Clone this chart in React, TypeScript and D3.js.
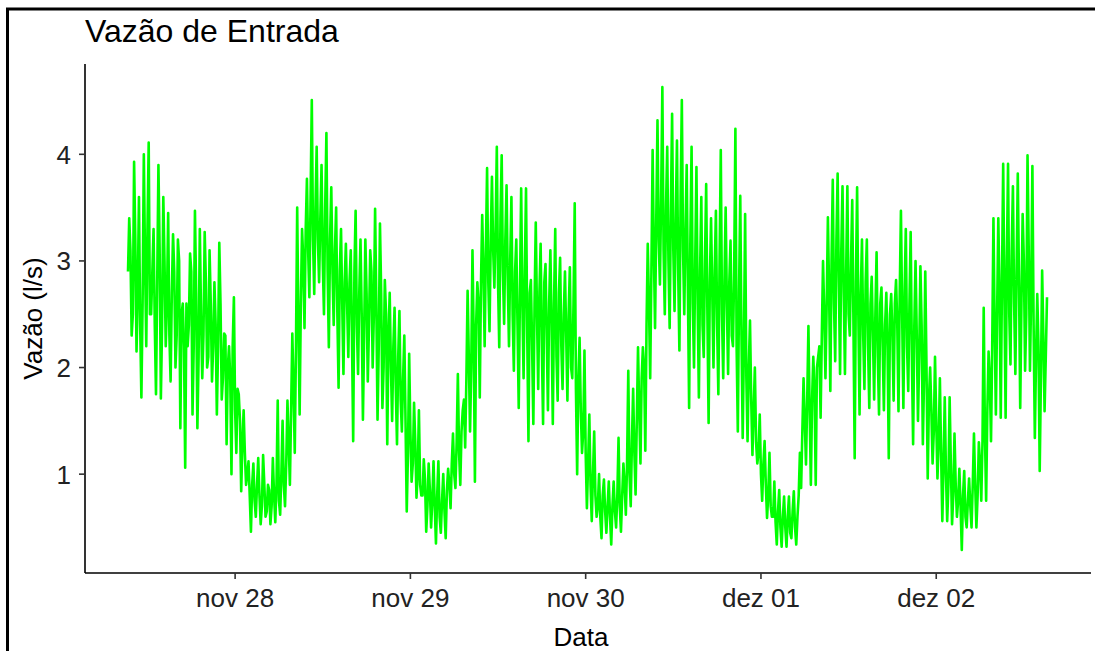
import * as d3 from "d3";

// textos do gráfico
const title = "Vazão de Entrada";
const xTitle = "Data";
const yTitle = "Vazão (l/s)";

// série: leituras a cada 10 min a partir de 27/nov 09:20 (12 leituras = 2 h por linha)
const startTime = new Date(2021, 10, 27, 9, 20);
const stepMinutes = 10;
const yTicks = [1, 2, 3, 4];
const monthsShort = ["jan", "fev", "mar", "abr", "mai", "jun", "jul", "ago", "set", "out", "nov", "dez"];

const vazao = [
  2.9, 3.4, 3.1, 2.3, 2.5, 3.93, 3.2, 2.15, 2.7, 3.6, 2.4, 1.72,
  2.6, 4.0, 3.0, 2.2, 3.3, 4.11, 2.5, 2.5, 2.9, 3.3, 2.4, 1.75,
  2.8, 3.9, 3.1, 1.71, 2.4, 3.6, 3.0, 2.2, 2.6, 3.45, 2.3, 1.87,
  2.7, 3.25, 2.9, 2.0, 2.3, 3.2, 3.0, 1.43, 2.5, 2.6, 2.2, 1.06,
  2.6, 2.2, 2.4, 3.07, 2.9, 1.56, 2.2, 3.47, 2.7, 1.43, 2.1, 3.3,
  2.5, 1.9, 2.3, 3.27, 2.8, 2.0, 2.1, 3.1, 2.6, 1.87, 2.2, 2.8,
  2.4, 1.56, 2.2, 3.17, 2.6, 1.7, 1.9, 2.32, 2.3, 1.28, 2.0, 2.2,
  1.9, 1.0, 2.2, 2.66, 1.6, 1.2, 1.8, 1.75, 1.5, 0.84, 1.3, 1.6,
  1.2, 0.9, 1.0, 1.12, 0.8, 0.46, 0.9, 1.1, 0.75, 0.6, 0.9, 1.15,
  0.8, 0.53, 0.7, 1.18, 0.9, 0.6, 0.65, 0.9, 0.85, 0.53, 0.7, 1.15,
  0.8, 0.55, 0.9, 1.69, 0.75, 0.62, 1.0, 1.5, 0.9, 0.7, 1.1, 1.69,
  1.3, 0.9, 1.6, 2.32, 1.8, 1.2, 2.2, 3.5, 2.4, 1.56, 2.6, 3.3,
  3.0, 2.37, 3.3, 3.77, 3.1, 2.66, 3.6, 4.51, 3.2, 2.69, 3.5, 4.07,
  3.2, 2.8, 3.4, 3.9, 3.0, 2.5, 3.5, 4.2, 2.9, 2.19, 3.2, 3.69,
  2.9, 2.4, 3.1, 3.5, 2.5, 1.81, 2.9, 3.3, 2.6, 1.94, 2.8, 3.16,
  2.6, 2.1, 2.8, 3.1, 2.3, 1.31, 2.9, 3.47, 2.4, 1.94, 2.7, 3.2,
  2.5, 1.51, 2.3, 3.2, 2.7, 1.87, 2.4, 3.1, 2.9, 2.0, 2.5, 3.49,
  2.6, 1.51, 2.2, 3.35, 2.7, 1.62, 2.0, 2.82, 2.5, 1.28, 2.3, 2.7,
  2.0, 1.5, 2.2, 2.56, 1.8, 1.28, 2.1, 2.53, 1.7, 1.4, 1.9, 2.3,
  1.5, 0.65, 1.2, 2.13, 1.4, 0.93, 1.1, 1.67, 1.3, 0.78, 1.0, 1.6,
  0.9, 0.8, 0.8, 1.14, 0.95, 0.46, 0.7, 1.1, 0.85, 0.5, 0.75, 1.12,
  0.7, 0.35, 0.8, 1.12, 0.6, 0.45, 0.75, 1.0, 0.65, 0.4, 0.85, 1.05,
  0.9, 0.68, 1.1, 1.38, 1.0, 0.87, 1.3, 1.94, 1.2, 0.9, 1.4, 1.6,
  1.7, 1.25, 1.9, 2.72, 2.1, 1.4, 2.0, 3.1, 2.3, 0.93, 2.4, 2.8,
  2.6, 1.72, 2.8, 3.43, 2.9, 2.2, 3.1, 3.87, 2.8, 2.34, 3.2, 3.79,
  3.1, 2.75, 3.3, 4.07, 2.8, 2.19, 3.4, 3.99, 2.9, 2.41, 3.2, 3.71,
  2.8, 2.2, 3.0, 3.6, 2.5, 1.97, 2.9, 3.2, 2.4, 1.62, 2.7, 3.68,
  2.6, 1.9, 2.9, 3.68, 2.3, 1.31, 2.7, 2.82, 2.2, 1.47, 2.6, 3.36,
  2.5, 1.8, 2.7, 3.16, 2.2, 1.47, 2.8, 2.97, 2.3, 1.6, 2.6, 3.1,
  2.4, 1.47, 2.6, 3.3, 2.1, 1.69, 2.7, 3.03, 2.2, 1.8, 2.5, 2.9,
  2.3, 1.69, 2.5, 2.94, 2.0, 1.9, 2.6, 3.54, 1.8, 1.0, 1.9, 2.28,
  1.6, 1.2, 1.4, 2.16, 1.2, 0.68, 1.1, 1.56, 0.9, 0.56, 1.0, 1.4,
  0.8, 0.6, 0.7, 1.0, 0.6, 0.4, 0.8, 0.95, 0.65, 0.45, 0.7, 0.93,
  0.6, 0.34, 0.7, 0.93, 0.65, 0.5, 0.8, 1.34, 0.7, 0.46, 0.8, 1.1,
  0.9, 0.62, 1.1, 1.97, 1.0, 0.7, 1.3, 1.8, 1.2, 0.81, 1.5, 2.19,
  1.6, 1.1, 1.9, 2.19, 2.0, 1.22, 2.4, 3.16, 2.6, 1.9, 2.9, 4.04,
  3.1, 2.37, 3.4, 4.32, 3.2, 2.78, 3.6, 4.63, 3.1, 2.5, 3.5, 4.07,
  3.0, 2.37, 3.5, 4.38, 3.1, 2.53, 3.4, 4.13, 2.9, 2.16, 3.6, 4.51,
  3.1, 2.5, 3.3, 3.9, 2.7, 1.62, 3.2, 4.07, 2.6, 2.0, 3.0, 3.88,
  2.6, 1.72, 2.9, 3.6, 2.4, 2.1, 3.0, 3.72, 2.5, 1.48, 2.8, 3.4,
  2.7, 2.0, 2.9, 3.47, 2.4, 1.75, 3.0, 4.04, 2.5, 1.9, 2.8, 3.5,
  2.6, 1.94, 2.8, 3.19, 2.3, 2.2, 2.9, 4.24, 2.2, 1.4, 2.7, 3.61,
  2.3, 1.34, 2.2, 3.44, 1.9, 1.31, 2.0, 2.44, 1.7, 1.18, 1.6, 2.0,
  1.3, 1.1, 1.2, 1.56, 1.0, 0.75, 1.1, 1.31, 0.9, 0.59, 0.8, 1.2,
  0.7, 0.6, 0.6, 0.93, 0.55, 0.34, 0.65, 0.85, 0.5, 0.32, 0.6, 0.79,
  0.5, 0.32, 0.6, 0.79, 0.45, 0.4, 0.65, 0.84, 0.5, 0.34, 0.6, 0.8,
  1.2, 0.87, 1.4, 1.9, 1.5, 1.09, 1.7, 2.39, 1.6, 0.9, 1.7, 2.1,
  1.8, 0.9, 2.0, 2.1, 2.2, 1.53, 2.3, 3.0, 2.5, 1.9, 2.6, 3.41,
  2.7, 1.78, 3.0, 3.76, 2.6, 2.06, 3.2, 3.82, 2.8, 1.94, 3.1, 3.7,
  2.7, 1.94, 2.9, 3.7, 2.5, 2.3, 3.0, 3.57, 2.4, 1.15, 2.8, 3.69,
  2.5, 1.56, 2.7, 3.2, 2.3, 1.8, 2.8, 3.2, 2.2, 1.62, 2.6, 2.85,
  2.3, 1.7, 2.5, 3.08, 2.1, 1.56, 2.6, 2.75, 2.2, 1.6, 2.4, 2.7,
  2.2, 1.15, 2.5, 2.69, 2.3, 1.69, 2.6, 2.82, 2.4, 1.59, 2.7, 3.47,
  2.5, 1.62, 2.7, 3.3, 2.2, 1.78, 2.6, 3.27, 2.1, 1.28, 2.4, 3.0,
  2.3, 1.5, 2.1, 2.95, 2.4, 1.28, 1.9, 2.9, 2.0, 0.96, 1.7, 2.0,
  1.6, 1.1, 1.4, 2.1, 1.5, 0.96, 1.3, 1.9, 1.2, 0.56, 1.1, 1.72,
  1.0, 0.56, 0.9, 1.72, 1.1, 0.53, 0.8, 1.38, 0.9, 0.6, 0.75, 1.05,
  0.7, 0.29, 0.8, 1.03, 0.6, 0.5, 0.75, 0.96, 0.7, 0.5, 0.9, 1.38,
  0.9, 0.5, 0.8, 1.3, 1.1, 0.75, 1.3, 2.56, 1.4, 0.75, 1.6, 2.15,
  1.9, 1.31, 2.2, 3.4, 2.4, 1.56, 2.5, 3.4, 2.7, 1.53, 2.8, 3.91,
  2.7, 1.53, 3.0, 3.91, 2.5, 2.03, 3.1, 3.7, 2.6, 1.94, 2.9, 3.82,
  2.8, 1.62, 2.6, 3.44, 3.0, 1.97, 2.5, 3.99, 3.1, 1.97, 2.7, 3.89,
  2.4, 1.34, 2.1, 2.69, 2.2, 1.03, 1.9, 2.91, 2.3, 1.59, 2.1, 2.66,
];

const W = 1095;
const H = 651;
const panel = { left: 85, right: 1091, top: 64, bottom: 573 };
const font = "'Liberation Sans', Arial, Helvetica, sans-serif";

const ptBR = d3.timeFormatLocale({
  dateTime: "%d/%m/%Y %H:%M:%S",
  date: "%d/%m/%Y",
  time: "%H:%M:%S",
  periods: ["AM", "PM"],
  days: ["domingo", "segunda", "terça", "quarta", "quinta", "sexta", "sábado"],
  shortDays: ["dom", "seg", "ter", "qua", "qui", "sex", "sáb"],
  months: monthsShort,
  shortMonths: monthsShort,
});
const fmtDay = ptBR.format("%b %d");

export default function App() {
  const data = vazao.map((v, i) => ({
    t: d3.timeMinute.offset(startTime, i * stepMinutes),
    v,
  }));

  const x = d3
    .scaleTime()
    .domain(d3.extent(data, (d) => d.t) as [Date, Date])
    .range([panel.left + 43, panel.right - 44]);

  const [vmin, vmax] = d3.extent(data, (d) => d.v) as [number, number];
  const span = vmax - vmin;
  const y = d3
    .scaleLinear()
    .domain([vmin - span * 0.05, vmax + span * 0.05])
    .range([panel.bottom, panel.top]);

  const line = d3
    .line<{ t: Date; v: number }>()
    .x((d) => x(d.t))
    .y((d) => y(d.v));

  const [d0, d1] = x.domain();
  const xTicks = d3.timeDay.range(d3.timeDay.ceil(d0), d1);

  return (
    <svg
      width={W}
      height={H}
      style={{ position: "absolute", left: 0, top: 0, background: "#fff" }}
      fontFamily={font}
    >
      <rect x={7.5} y={9} width={1200} height={800} fill="none" stroke="#000" strokeWidth={3} />

      <text x={85} y={42} fontSize={32} fill="#000">
        {title}
      </text>

      <path d={line(data) ?? ""} fill="none" stroke="#00ff00" strokeWidth={2.6} strokeLinejoin="round" />

      {/* eixo y */}
      <line x1={panel.left} x2={panel.left} y1={panel.top} y2={panel.bottom} stroke="#000" strokeWidth={1.6} />
      {yTicks.map((t) => (
        <g key={t} transform={`translate(0,${y(t)})`}>
          <line x1={panel.left - 6} x2={panel.left} stroke="#333" strokeWidth={1.6} />
          <text x={panel.left - 14} dy="0.36em" textAnchor="end" fontSize={26} fill="#222">
            {t}
          </text>
        </g>
      ))}

      {/* eixo x */}
      <line x1={panel.left} x2={panel.right} y1={panel.bottom} y2={panel.bottom} stroke="#000" strokeWidth={1.6} />
      {xTicks.map((t) => (
        <g key={+t} transform={`translate(${x(t)},0)`}>
          <line y1={panel.bottom} y2={panel.bottom + 6} stroke="#333" strokeWidth={1.6} />
          <text y={607} textAnchor="middle" fontSize={26} fill="#222">
            {fmtDay(t)}
          </text>
        </g>
      ))}

      <text x={581} y={646} textAnchor="middle" fontSize={26} fill="#000">
        {xTitle}
      </text>
      <text
        transform={`translate(42,${(panel.top + panel.bottom) / 2}) rotate(-90)`}
        textAnchor="middle"
        fontSize={26}
        fill="#000"
      >
        {yTitle}
      </text>
    </svg>
  );
}
